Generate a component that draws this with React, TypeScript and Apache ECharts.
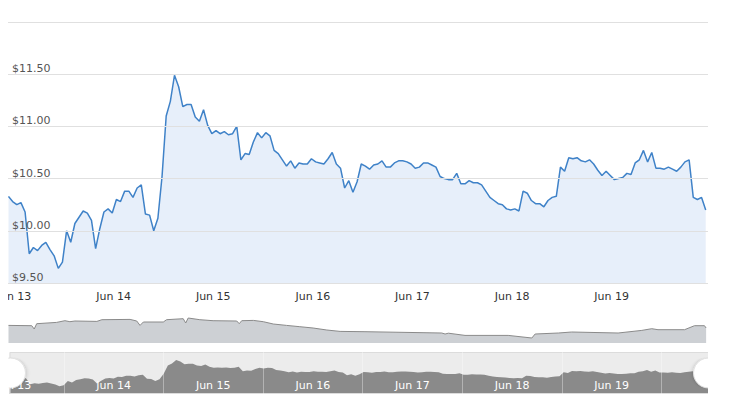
import React, { useEffect, useRef } from 'react';
import * as echarts from 'echarts';

const HOUR = 3600000;
const DAY = 24 * HOUR;
// first sample and the visible time window (UTC)
const START = Date.UTC(2019, 5, 12, 22, 40);
const AXIS_MIN = Date.UTC(2019, 5, 12, 22, 33);
const AXIS_MAX = Date.UTC(2019, 5, 19, 23, 13);

// hourly price samples, USD
const pricesJun13 = [
  10.33, 10.28, 10.25, 10.27, 10.18, 9.78, 9.84, 9.81, 9.86, 9.89, 9.82, 9.76,
  9.64, 9.70, 10.0, 9.89, 10.07, 10.13, 10.19, 10.17, 10.10, 9.83, 10.02, 10.18,
];
const pricesJun14 = [
  10.21, 10.17, 10.30, 10.28, 10.38, 10.38, 10.32, 10.41, 10.44, 10.16, 10.15, 10.0,
  10.12, 10.52, 11.10, 11.24, 11.49, 11.38, 11.19, 11.21, 11.21, 11.09, 11.05, 11.16,
];
const pricesJun15 = [
  11.01, 10.93, 10.96, 10.93, 10.95, 10.92, 10.93, 11.0, 10.68, 10.74, 10.73, 10.85,
  10.94, 10.89, 10.94, 10.91, 10.77, 10.74, 10.68, 10.62, 10.67, 10.60, 10.65, 10.64,
];
const pricesJun16 = [
  10.64, 10.69, 10.66, 10.65, 10.64, 10.69, 10.75, 10.64, 10.60, 10.41, 10.48, 10.37,
  10.47, 10.64, 10.62, 10.59, 10.63, 10.64, 10.67, 10.61, 10.61, 10.65, 10.67, 10.67,
];
const pricesJun17 = [
  10.66, 10.64, 10.60, 10.61, 10.65, 10.65, 10.63, 10.61, 10.52, 10.50, 10.49, 10.49,
  10.55, 10.45, 10.45, 10.48, 10.46, 10.46, 10.44, 10.38, 10.32, 10.29, 10.26, 10.25,
];
const pricesJun18 = [
  10.21, 10.20, 10.21, 10.19, 10.38, 10.36, 10.29, 10.26, 10.26, 10.23, 10.29, 10.32,
  10.33, 10.61, 10.57, 10.70, 10.69, 10.70, 10.67, 10.66, 10.68, 10.64, 10.58, 10.53,
];
const pricesJun19 = [
  10.57, 10.53, 10.49, 10.50, 10.51, 10.55, 10.54, 10.65, 10.68, 10.77, 10.66, 10.75,
  10.60, 10.60, 10.59, 10.61, 10.59, 10.57, 10.61, 10.66, 10.68, 10.32, 10.30, 10.32,
  10.20,
];

// volume-like profile below the chart (hours after START, value)
const volumeHours = [
  0, 5.6, 6.2, 6.8, 11.6, 13.6, 14.8, 16, 21.3, 22.5, 29.3, 30.9, 31.7, 32.5, 37.3, 38.1,
  42.1, 42.7, 43.3, 46.1, 49.3, 55, 55.6, 56.2, 59, 61.4, 63.8, 67, 70.2, 73.4, 76.7, 79.9,
  85.9, 104.4, 105.2, 106, 110, 120.4, 126.1, 126.9, 132.5, 135.7, 146.9, 152.6, 155, 156.5,
  162.9, 165.3, 167.7, 168.1,
];
const volumeValues = [
  17.6, 17.3, 14, 19.3, 20.6, 22.3, 21.3, 22, 21.6, 23.3, 23.6, 22, 17.6, 21, 21, 23.3,
  24.3, 20, 25, 23.3, 22.3, 22, 19.3, 22.3, 22.6, 21.3, 19, 17.6, 16.3, 15, 13, 11.6,
  11.3, 10, 9, 9.8, 7.6, 7.6, 5, 9, 10, 11, 10, 12.6, 14.3, 13.3,
  13.3, 17.3, 17.3, 15,
];

const yTicks = [9.5, 10, 10.5, 11, 11.5, 12];

export default function App() {
  const ref = useRef<HTMLDivElement>(null);

  useEffect(() => {
    if (!ref.current) return;
    const chart = echarts.init(ref.current, undefined, { renderer: 'svg' });

    const prices = [
      ...pricesJun13, ...pricesJun14, ...pricesJun15, ...pricesJun16,
      ...pricesJun17, ...pricesJun18, ...pricesJun19,
    ];
    const priceData = prices.map((v, i) => [START + i * HOUR, v]);
    const volumeData = volumeHours.map((h, i) => [START + h * HOUR, volumeValues[i]]);

    const dayLabel = '{MMM} {d}';

    const option: any = {
      animation: false,
      useUTC: true,
      textStyle: { fontFamily: 'DejaVu Sans', fontSize: 11 },
      grid: [
        { left: 0, right: 0, top: 14, height: 261, outerBoundsMode: 'none' },
        { left: 0, right: 0, top: 305, height: 30, outerBoundsMode: 'none' },
        { left: 0, right: 0, top: 344, height: 42, outerBoundsMode: 'none' },
      ],
      xAxis: [
        {
          type: 'time', gridIndex: 0, min: AXIS_MIN, max: AXIS_MAX,
          minInterval: DAY, maxInterval: DAY,
          axisLine: { show: false }, axisTick: { show: false }, splitLine: { show: false },
          axisLabel: { color: '#333', fontSize: 11, margin: 8, formatter: dayLabel, hideOverlap: false },
        },
        {
          type: 'time', gridIndex: 1, min: AXIS_MIN, max: AXIS_MAX, show: false,
        },
        {
          type: 'time', gridIndex: 2, min: AXIS_MIN, max: AXIS_MAX, z: 10,
          minInterval: DAY, maxInterval: DAY,
          axisLine: { show: false }, axisTick: { show: false }, splitLine: { show: false },
          axisLabel: { inside: true, color: '#ffffff', fontSize: 11, margin: 3, formatter: dayLabel, hideOverlap: false },
        },
        {
          type: 'time', gridIndex: 2, min: AXIS_MIN + 12 * HOUR, max: AXIS_MAX + 12 * HOUR, z: 10,
          minInterval: DAY, maxInterval: DAY,
          axisLine: { show: false }, axisTick: { show: false }, axisLabel: { show: false },
          splitLine: { show: true, lineStyle: { color: 'rgba(255,255,255,0.35)', width: 1 } },
        },
      ],
      yAxis: [
        {
          type: 'value', gridIndex: 0, min: yTicks[0], max: yTicks[yTicks.length - 1], interval: 0.5,
          z: 5,
          axisLine: { show: false }, axisTick: { show: false },
          splitLine: { show: true, lineStyle: { color: '#e0e0e0', width: 1 } },
          axisLabel: {
            inside: true, margin: 4, verticalAlign: 'bottom', color: '#555', fontSize: 11,
            formatter: (v: number) => (v >= 12 ? '' : '$' + v.toFixed(2)),
          },
        },
        { type: 'value', gridIndex: 1, min: 0, max: 30, show: false },
        { type: 'value', gridIndex: 2, min: 0, max: 1, show: false },
      ],
      dataZoom: [
        {
          type: 'slider', xAxisIndex: 0, start: 0, end: 100,
          left: 0, right: 0, top: 344, height: 42,
          backgroundColor: '#ececec', borderColor: '#dcdcdc',
          fillerColor: 'rgba(0,0,0,0)',
          showDetail: false, brushSelect: false, moveHandleSize: 0,
          dataBackground: {
            lineStyle: { width: 0, opacity: 0 },
            areaStyle: { color: '#8a8a8a', opacity: 1 },
          },
          selectedDataBackground: {
            lineStyle: { width: 0, opacity: 0 },
            areaStyle: { color: '#8a8a8a', opacity: 1 },
          },
          handleIcon: 'circle', handleSize: 30,
          handleStyle: {
            color: '#ffffff', borderColor: '#e2e2e2', borderWidth: 1,
            shadowBlur: 4, shadowColor: 'rgba(0,0,0,0.2)',
          },
        },
      ],
      series: [
        {
          type: 'line', xAxisIndex: 0, yAxisIndex: 0, data: priceData,
          symbol: 'none', showSymbol: false,
          lineStyle: { color: '#3f82c8', width: 1.5 },
          areaStyle: { color: '#e7effa', opacity: 1 },
        },
        {
          type: 'line', xAxisIndex: 1, yAxisIndex: 1, data: volumeData,
          symbol: 'none', showSymbol: false,
          lineStyle: { color: '#8a8a8a', width: 1 },
          areaStyle: { color: '#cdd0d4', opacity: 1 },
        },
      ],
    };

    chart.setOption(option);
    return () => chart.dispose();
  }, []);

  return <div ref={ref} style={{ width: 700, height: 386 }} />;
}
